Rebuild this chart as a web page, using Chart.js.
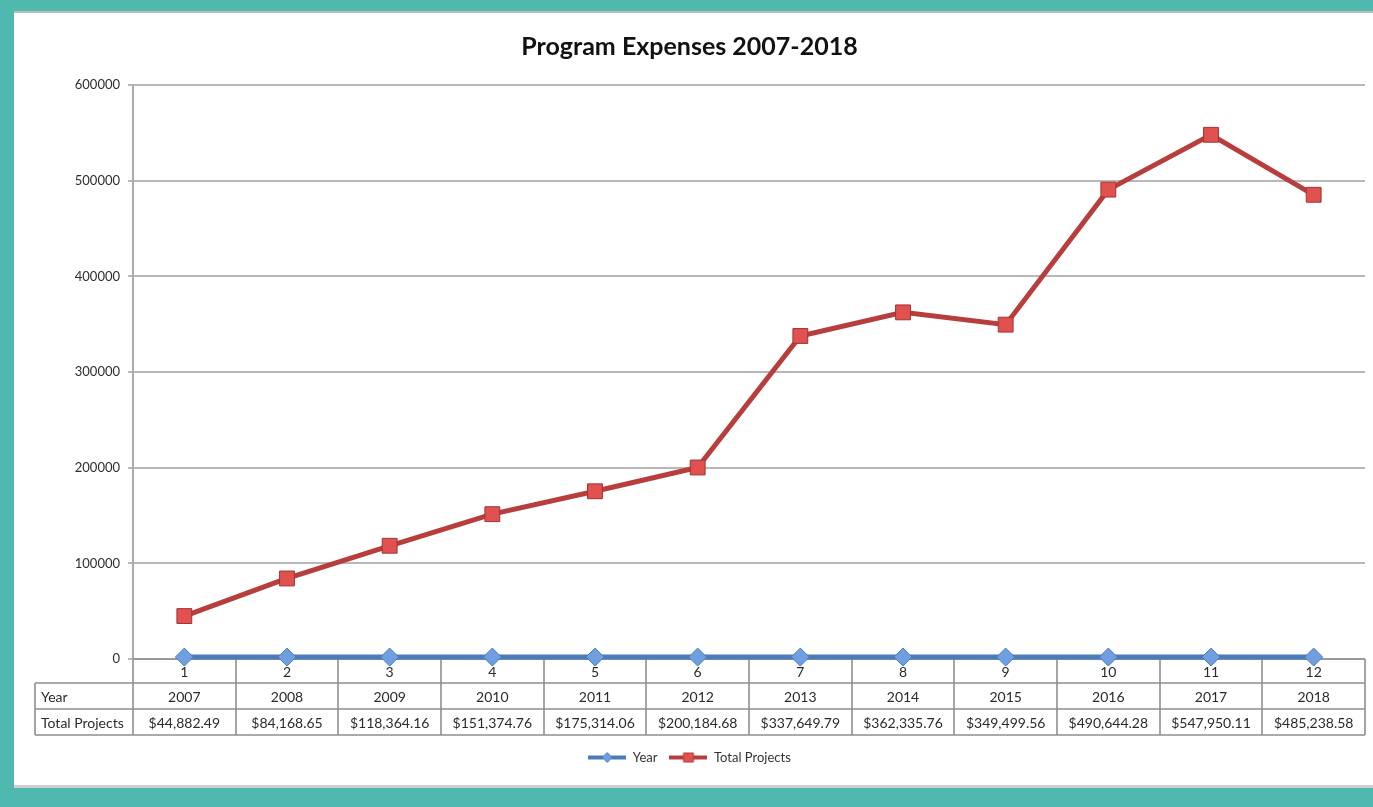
<!DOCTYPE html>
<html>
<head>
<meta charset="utf-8">
<title>Program Expenses 2007-2018</title>
<script src="https://cdn.jsdelivr.net/npm/chart.js@4.4.1/dist/chart.umd.min.js"></script>
<style>
  html, body { margin: 0; padding: 0; }
  body { width: 1373px; height: 807px; background: #4fb9af; position: relative; overflow: hidden; }
  #frame {
    position: absolute; left: 14px; top: 11px; width: 1359px; height: 777px;
    background: #fff; border-top: 2px solid #bdbdbd; border-bottom: 3px solid #d0d0d0;
    box-sizing: border-box;
  }
  #expensesChart { display: block; }
</style>
</head>
<body>
<div id="frame">
  <canvas id="expensesChart" width="1359" height="772"></canvas>
</div>
<script>
// category numbers along the x axis
const categories = ['1', '2', '3', '4', '5', '6', '7', '8', '9', '10', '11', '12'];
// first series: the year itself (sits on the zero line at this scale)
const years = [2007, 2008, 2009, 2010, 2011, 2012, 2013, 2014, 2015, 2016, 2017, 2018];
// second series: total project expenses per year, in dollars
const totalProjects = [44882.49, 84168.65, 118364.16, 151374.76, 175314.06, 200184.68,
                       337649.79, 362335.76, 349499.56, 490644.28, 547950.11, 485238.58];
const yTicks = [0, 100000, 200000, 300000, 400000, 500000, 600000];

const FONT = 'Lato, "Noto Sans", sans-serif';
const blueLine = '#4a7cbc';
const blueFill = '#6f9fe0';
const redLine = '#b73e3c';
const redFill = '#e0514f';

// legend icon: short line with the series marker in the middle
function legendIcon(line, fill, shape) {
  const c = document.createElement('canvas');
  c.width = 38; c.height = 12;
  const g = c.getContext('2d');
  g.strokeStyle = line; g.lineWidth = 4;
  g.beginPath(); g.moveTo(0, 6); g.lineTo(38, 6); g.stroke();
  g.fillStyle = fill; g.strokeStyle = line; g.lineWidth = 1;
  g.beginPath();
  if (shape === 'diamond') {
    g.moveTo(19, 1); g.lineTo(24, 6); g.lineTo(19, 11); g.lineTo(14, 6); g.closePath();
  } else {
    g.rect(14, 1.5, 10, 9);
  }
  g.fill(); g.stroke();
  return c;
}

function money(v) {
  return '$' + v.toLocaleString('en-US', { minimumFractionDigits: 2, maximumFractionDigits: 2 });
}

// data table under the plot: category numbers, Year row, Total Projects row
const dataTable = {
  id: 'dataTable',
  beforeDatasetsDraw(chart) {
    const ctx = chart.ctx;
    const x = chart.scales.x;
    const area = chart.chartArea;
    const top = area.bottom;
    const rows = [top, top + 24, top + 50, top + 76];
    const step = x.getPixelForValue(1) - x.getPixelForValue(0);
    const tableLeft = 21;

    ctx.save();
    ctx.strokeStyle = '#8f8f8f';
    ctx.lineWidth = 1.6;
    ctx.beginPath();
    for (let i = 0; i <= categories.length; i++) {
      const bx = Math.round(x.getPixelForValue(i) - step / 2);
      ctx.moveTo(bx, top); ctx.lineTo(bx, rows[3]);
    }
    for (let r = 1; r < rows.length; r++) {
      ctx.moveTo(tableLeft, rows[r]); ctx.lineTo(area.right, rows[r]);
    }
    ctx.moveTo(tableLeft, rows[1]); ctx.lineTo(tableLeft, rows[3]);
    ctx.moveTo(area.left, top); ctx.lineTo(area.right, top);
    ctx.stroke();

    ctx.fillStyle = '#2b2b2b';
    ctx.font = '14px ' + FONT;
    ctx.textBaseline = 'middle';
    ctx.textAlign = 'left';
    ctx.fillText('Year', tableLeft + 6, (rows[1] + rows[2]) / 2 + 1);
    ctx.fillText('Total Projects', tableLeft + 6, (rows[2] + rows[3]) / 2 + 1);
    ctx.textAlign = 'center';
    categories.forEach((c, i) => {
      const cx = x.getPixelForValue(i);
      ctx.fillText(c, cx, (rows[0] + rows[1]) / 2 + 1);
      ctx.fillText(String(years[i]), cx, (rows[1] + rows[2]) / 2 + 1);
      ctx.fillText(money(totalProjects[i]), cx, (rows[2] + rows[3]) / 2 + 1);
    });
    ctx.restore();
  }
};

const icons = {
  Year: legendIcon(blueLine, blueFill, 'diamond'),
  'Total Projects': legendIcon(redLine, redFill, 'rect')
};

const ctx = document.getElementById('expensesChart').getContext('2d');
const expensesChart = new Chart(ctx, {
  type: 'line',
  data: {
    labels: categories,
    datasets: [{
      label: 'Year',
      data: years,
      borderColor: blueLine,
      borderWidth: 5,
      pointStyle: 'rectRot',
      pointRadius: 9,
      pointBackgroundColor: blueFill,
      pointBorderColor: blueLine,
      pointBorderWidth: 1,
      clip: false,
      tension: 0
    }, {
      label: 'Total Projects',
      data: totalProjects,
      borderColor: redLine,
      borderWidth: 5,
      pointStyle: 'rect',
      pointRadius: 10.5,
      pointBackgroundColor: redFill,
      pointBorderColor: '#9e3533',
      pointBorderWidth: 1,
      clip: false,
      tension: 0
    }]
  },
  options: {
    responsive: false,
    animation: false,
    layout: { autoPadding: false, padding: { left: 0, right: 8, top: 0, bottom: 11 } },
    plugins: {
      title: {
        display: true,
        text: 'Program Expenses 2007-2018',
        color: '#111',
        font: { family: FONT, size: 25, weight: 'bold' },
        padding: { top: 19, bottom: 23 }
      },
      legend: {
        position: 'bottom',
        labels: {
          color: '#333',
          font: { family: FONT, size: 13 },
          usePointStyle: true,
          pointStyleWidth: 38,
          padding: 12,
          generateLabels(chart) {
            return Chart.defaults.plugins.legend.labels.generateLabels(chart).map(item => {
              item.pointStyle = icons[item.text];
              return item;
            });
          }
        }
      },
      tooltip: { enabled: false }
    },
    scales: {
      x: {
        offset: true,
        grid: { display: false },
        border: { display: false },
        ticks: { display: false },
        afterFit(scale) { scale.height = 80; }
      },
      y: {
        min: 0,
        max: 600000,
        afterBuildTicks(scale) { scale.ticks = yTicks.map(v => ({ value: v })); },
        afterFit(scale) { scale.width = 119; },
        ticks: {
          color: '#2e2e2e',
          font: { family: FONT, size: 13 },
          padding: 8,
          callback: v => String(v)
        },
        grid: { color: '#b8b8b8', lineWidth: 2, tickLength: 5 },
        border: { color: '#ababab', width: 2 }
      }
    }
  },
  plugins: [dataTable]
});
</script>
</body>
</html>
